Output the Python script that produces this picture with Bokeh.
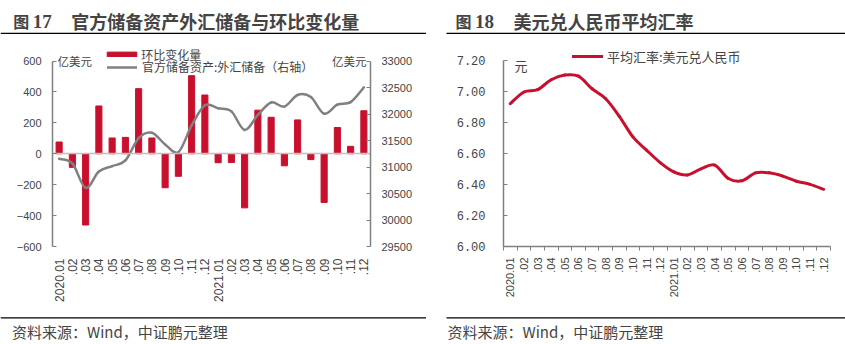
import math
from bokeh.plotting import figure
from bokeh.models import (Range1d, LinearAxis, FixedTicker, Label, Legend,
                          LegendItem, NumeralTickFormatter, Arrow)
from bokeh.layouts import row
from bokeh.embed import file_html
from bokeh.resources import INLINE

# ---------------- data ----------------
months = ["2020.01", ".02", ".03", ".04", ".05", ".06", ".07", ".08", ".09", ".10", ".11", ".12",
          "2021.01", ".02", ".03", ".04", ".05", ".06", ".07", ".08", ".09", ".10", ".11", ".12"]
# 环比变化量 (亿美元)
reserve_change = [76, -88, -461, 309, 102, 106, 421, 102, -220, -146, 505, 380,
                  -58, -57, -350, 282, 236, -78, 219, -38, -315, 170, 48, 278]
# 官方储备资产:外汇储备 (亿美元, 右轴)
fx_reserves = [31155, 31067, 30606, 30915, 31017, 31123, 31544, 31646, 31426, 31280, 31785, 32165,
               32107, 32050, 31700, 31982, 32218, 32140, 32359, 32321, 32006, 32176, 32224, 32502]
# 平均汇率:美元兑人民币
usd_cny = [6.919, 6.994, 7.009, 7.073, 7.103, 7.096, 7.015, 6.951, 6.838, 6.705, 6.620, 6.540,
           6.480, 6.460, 6.500, 6.524, 6.438, 6.423, 6.474, 6.474, 6.453, 6.420, 6.400, 6.368]
left_ticks = [-600, -400, -200, 0, 200, 400, 600]
right_ticks = [29500, 30000, 30500, 31000, 31500, 32000, 32500, 33000]
fx_ticks = [6.0, 6.2, 6.4, 6.6, 6.8, 7.0, 7.2]

CJK = "Noto Sans CJK SC"
RED = "#C8102E"
GRAY = "#808080"
H = 344

n = len(months)
centers = [i + 0.5 for i in range(n)]
bounds_x = [float(i) for i in range(n + 1)]
overrides = {c: m for c, m in zip(centers, months)}


def bezier_parts(xs, ys):
    """Control points for a smoothed (Excel-like) line through the data points."""
    out = dict(x0=[], y0=[], x1=[], y1=[], cx0=[], cy0=[], cx1=[], cy1=[])
    m = len(xs)
    for i in range(m - 1):
        xp, yp = (xs[i - 1], ys[i - 1]) if i > 0 else (xs[i], ys[i])
        xn, yn = (xs[i + 2], ys[i + 2]) if i + 2 < m else (xs[i + 1], ys[i + 1])
        out["x0"].append(xs[i]); out["y0"].append(ys[i])
        out["x1"].append(xs[i + 1]); out["y1"].append(ys[i + 1])
        out["cx0"].append(xs[i] + (xs[i + 1] - xp) / 6.0)
        out["cy0"].append(ys[i] + (ys[i + 1] - yp) / 6.0)
        out["cx1"].append(xs[i + 1] - (xn - xs[i]) / 6.0)
        out["cy1"].append(ys[i + 1] - (yn - ys[i]) / 6.0)
    return out


class Panel:
    """Maps panel pixels to data units: the figure frame covers the whole panel."""

    def __init__(self, width, ax_left_px, ax_right_px, top_val, top_px, bot_val, bot_px):
        self.w = width
        self.ux = (ax_right_px - ax_left_px) / n
        self.x0px = ax_left_px
        self.uy = (bot_px - top_px) / (top_val - bot_val)
        self.top_val, self.top_px = top_val, top_px

    def x(self, px):
        return (px - self.x0px) / self.ux

    def y(self, py):
        return self.top_val - (py - self.top_px) / self.uy

    def fig(self):
        p = figure(width=self.w, height=H,
                   x_range=Range1d(self.x(0), self.x(self.w)),
                   y_range=Range1d(self.y(H), self.y(0)),
                   x_axis_type=None, y_axis_type=None, toolbar_location=None,
                   output_backend="svg", min_border=0, outline_line_color=None)
        p.grid.visible = False
        return p

    def label(self, p, px, py, text, font=CJK, size="14px", style="normal", align="left"):
        p.add_layout(Label(x=self.x(px), y=self.y(py), text=text, text_font=font,
                           text_font_size=size, text_font_style=style,
                           text_baseline="middle", text_align=align))

    def rule(self, p, px0, px1, py):
        p.add_layout(Arrow(start=None, end=None, x_start=self.x(px0), y_start=self.y(py),
                           x_end=self.x(px1), y_end=self.y(py),
                           line_color="black", line_width=1.2))

    def decorate(self, p, fig_px, no, title, src_px, r0, r1):
        self.label(p, fig_px, 20, "图", size="16px", style="bold")
        self.label(p, fig_px + 19.5, 20.5, no, font="Liberation Serif", size="19px", style="bold")
        self.label(p, fig_px + 58, 20, title, size="18px", style="bold")
        self.rule(p, r0, r1, 32.8)
        self.rule(p, r0, r1, 317.3)
        self.label(p, src_px, 330.5, "资料来源：Wind，中证鹏元整理", size="15px")


def style_axis(ax, font="Liberation Sans", size="11px", standoff=11):
    ax.axis_line_color = GRAY
    ax.axis_line_width = 1.5
    ax.major_tick_line_color = GRAY
    ax.major_tick_in = 4
    ax.major_tick_out = 0
    ax.minor_tick_line_color = None
    ax.major_label_text_font = font
    ax.major_label_text_font_size = size
    ax.major_label_standoff = standoff


WL, WR = 426, 419

# ---------------- left chart ----------------
L = Panel(WL, 52, 370, 600, 60.5, -600, 246)
pL = L.fig()
r_top = 31250 + (L.y(0)) * 3500 / 1200
r_bot = 31250 + (L.y(H)) * 3500 / 1200
pL.extra_y_ranges = {"right": Range1d(r_bot, r_top)}

bars = pL.vbar(x=centers, top=reserve_change, width=0.46, color=RED)
bz = bezier_parts(centers, fx_reserves)
line_l = pL.bezier(**bz, y_range_name="right", line_color=GRAY, line_width=2.5,
                   line_cap="round")

# zero line (axis line only)
zl = LinearAxis(fixed_location=0, bounds=(0, n), ticker=FixedTicker(ticks=[]))
zl.axis_line_color = "#C0C0C0"
zl.axis_line_width = 1.5
zl.major_tick_line_color = None
zl.minor_tick_line_color = None
pL.add_layout(zl, "below")

xa = LinearAxis(fixed_location=-600, ticker=FixedTicker(ticks=centers))
xa.major_label_overrides = overrides
xa.major_label_orientation = math.pi / 2
xa.axis_line_color = None
xa.major_tick_line_color = None
xa.minor_tick_line_color = None
xa.major_label_text_font = "Liberation Sans"
xa.major_label_text_font_size = "12px"
xa.major_label_standoff = 6
pL.add_layout(xa, "below")

ya = LinearAxis(fixed_location=0, ticker=FixedTicker(ticks=left_ticks), bounds=(-600, 600))
style_axis(ya)
pL.add_layout(ya, "left")

ra = LinearAxis(fixed_location=n, y_range_name="right", ticker=FixedTicker(ticks=right_ticks),
                bounds=(29500, 33000))
style_axis(ra)
pL.add_layout(ra, "right")

pL.add_layout(Label(x=0.38, y=600, text="亿美元", text_font=CJK, text_font_size="11.5px",
                    text_baseline="middle"))
pL.add_layout(Label(x=23.7, y=600, text="亿美元", text_font=CJK, text_font_size="11.5px",
                    text_baseline="middle", text_align="right"))

leg_common = dict(orientation="vertical", padding=0, margin=0, spacing=0,
                  label_text_font=CJK, label_text_font_size="12px",
                  background_fill_alpha=0, border_line_alpha=0)
pL.add_layout(Legend(items=[LegendItem(label="环比变化量", renderers=[bars])],
                     location=(103.3, 281.5), glyph_width=37, glyph_height=6,
                     label_standoff=1, **leg_common))
pL.add_layout(Legend(items=[LegendItem(label="官方储备资产:外汇储备（右轴）", renderers=[line_l])],
                     location=(107, 269), glyph_width=30, glyph_height=6,
                     label_standoff=5, **leg_common))

L.decorate(pL, 12.7, "17", "官方储备资产外汇储备与环比变化量", 11.5, 0, 426.5)

# ---------------- right chart ----------------
R = Panel(WR, 503 - WL, 830 - WL, 7.2, 59.5, 6.0, 246)
pR = R.fig()
bz2 = bezier_parts(centers, usd_cny)
line_r = pR.bezier(**bz2, line_color=RED, line_width=3, line_cap="round")

xb = LinearAxis(fixed_location=6.0, bounds=(0, n),
                ticker=FixedTicker(ticks=centers, minor_ticks=bounds_x))
xb.major_label_overrides = overrides
xb.major_label_orientation = math.pi / 2
xb.axis_line_color = GRAY
xb.axis_line_width = 1.5
xb.major_tick_line_color = None
xb.major_tick_in = 0
xb.major_tick_out = 0
xb.minor_tick_line_color = GRAY
xb.minor_tick_in = 0
xb.minor_tick_out = 4
xb.major_label_text_font = "Liberation Sans"
xb.major_label_text_font_size = "11px"
xb.major_label_standoff = 7
pR.add_layout(xb, "below")

yb = LinearAxis(fixed_location=0, bounds=(6.0, 7.2), ticker=FixedTicker(ticks=fx_ticks),
                formatter=NumeralTickFormatter(format="0.00"))
style_axis(yb, font="Liberation Mono", size="12px", standoff=18)
pR.add_layout(yb, "left")

pR.add_layout(Label(x=0.81, y=7.165, text="元", text_font=CJK, text_font_size="13px",
                    text_baseline="middle"))
pR.add_layout(Legend(items=[LegendItem(label="平均汇率:美元兑人民币", renderers=[line_r])],
                     location=(572 - WL, 278.5), orientation="vertical", padding=0, margin=0,
                     glyph_width=31, glyph_height=10, label_standoff=4,
                     label_text_font=CJK, label_text_font_size="13px",
                     background_fill_alpha=0, border_line_alpha=0))

R.decorate(pR, 455 - WL, "18", "美元兑人民币平均汇率", 447 - WL, 446 - WL, 845 - WL)

layout = row(pL, pR)
open("out.html", "w").write(file_html(layout, INLINE))
